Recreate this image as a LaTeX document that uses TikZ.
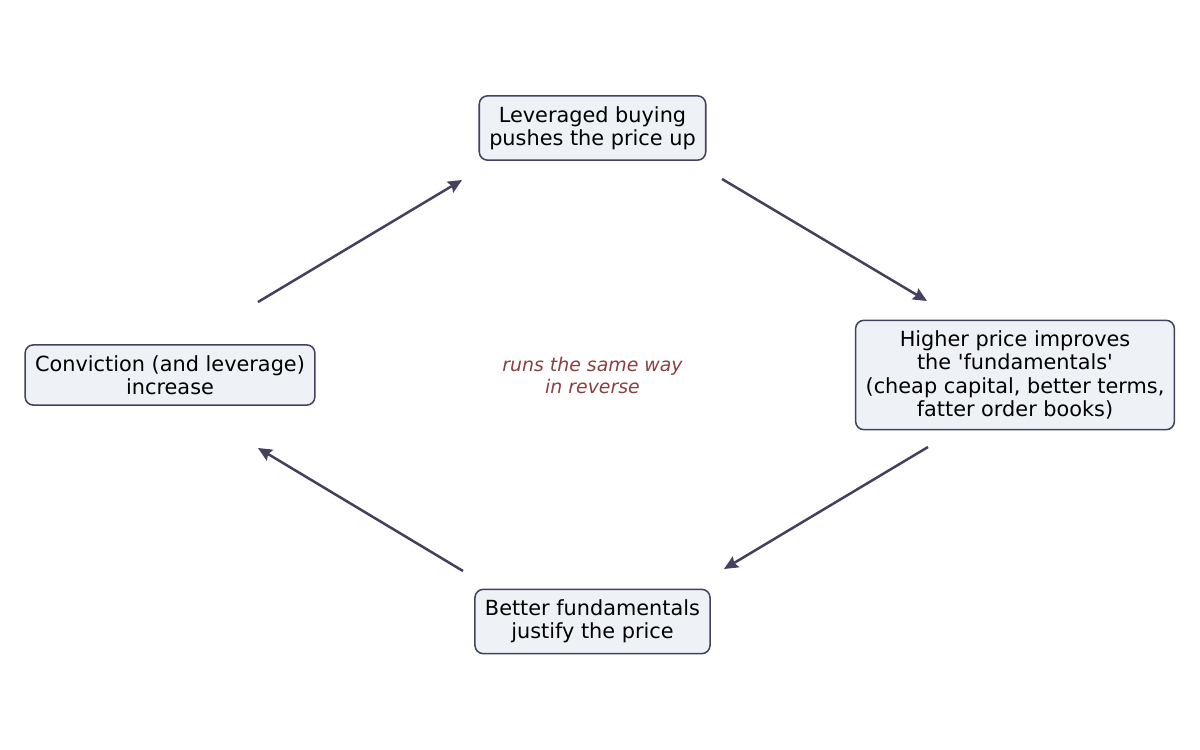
\documentclass[tikz,border=0pt]{standalone}
\usepackage{fontspec}
\usetikzlibrary{arrows.meta}
\newfontfamily\dejavu{DejaVu Sans}
\definecolor{boxline}{HTML}{44405F}
\definecolor{boxfill}{HTML}{EEF2F6}
\definecolor{notered}{HTML}{8B4040}

\begin{document}
\begin{tikzpicture}[x=0.72pt,y=-0.72pt,
    stage/.style={draw=boxline,fill=boxfill,line width=1.1pt,rounded corners=6pt,
        align=center,inner xsep=7.2pt,inner ysep=7.5pt,
        font=\dejavu\fontsize{15}{16.8}\selectfont},
    loop/.style={draw=boxline,line width=1.8pt,-{Stealth[length=10pt,width=9pt,inset=1.5pt]}},
    note/.style={text=notered,align=center,font=\dejavu\itshape\fontsize{13.6}{15.8}\selectfont}]
    \useasboundingbox (0,0) rectangle (1200,750);
    \node[stage] (lever) at (592.5,128) {Leveraged buying\\pushes the price up};
    \node[stage] (fund) at (1015,375) {Higher price improves\\the 'fundamentals'\\(cheap capital, better terms,\\fatter order books)};
    \node[stage] (just) at (592.5,621.5) {Better fundamentals\\justify the price};
    \node[stage] (conv) at (170,375) {Conviction (and leverage)\\increase};
    \node[note] (rev) at (592.5,375) {runs the same way\\in reverse};
    % arrow ends
    \coordinate (c1a) at (258,302);  \coordinate (c1b) at (462,180);
    \coordinate (c2a) at (722,179);  \coordinate (c2b) at (927,301);
    \coordinate (c3a) at (928,447);  \coordinate (c3b) at (724,569);
    \coordinate (c4a) at (463,571);  \coordinate (c4b) at (258,448);
    \draw[loop] (c1a) -- (c1b);
    \draw[loop] (c2a) -- (c2b);
    \draw[loop] (c3a) -- (c3b);
    \draw[loop] (c4a) -- (c4b);
\end{tikzpicture}
\end{document}
